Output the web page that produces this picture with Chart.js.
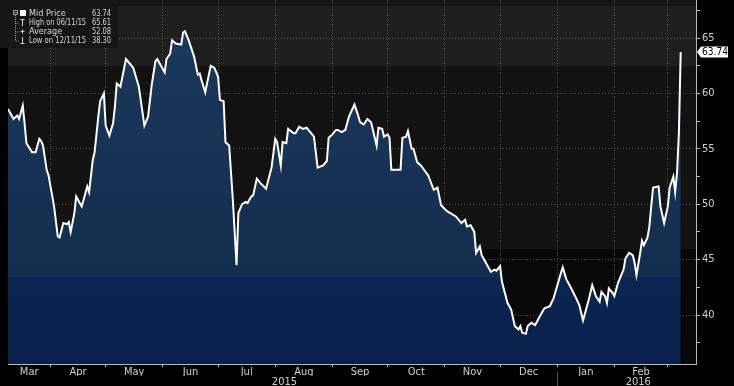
<!DOCTYPE html>
<html>
<head>
<meta charset="utf-8">
<script src="https://cdn.jsdelivr.net/npm/chart.js@4.4.1/dist/chart.umd.min.js"></script>
<style>
  html, body { margin: 0; padding: 0; background: #000; }
  #wrap { position: relative; width: 734px; height: 386px; }
</style>
</head>
<body>
<div id="wrap"><canvas id="chart" width="734" height="386"></canvas></div>
<script>
// x values are calendar days counted from 1 Mar 2015 (day 0)
const days = [8,11,13,14,16,17,18,21,23,25,26,27,29,30,33,35,36,38,40,41,
  42,44,45,48,51,52,54,55,57,58,60,61,63,65,66,67,69,72,74,76,
  79,82,84,86,88,89,91,93,94,96,97,99,102,103,104,106,109,111,112,113,
  115,118,120,122,123,125,126,128,130,132,133,135,137,138,140,141,143,145,148,151,
  153,154,156,157,159,160,163,164,166,168,170,172,174,176,179,181,182,184,186,187,
  189,191,193,196,198,199,201,203,205,208,209,211,212,214,215,216,221,222,224,225,
  227,228,230,232,236,239,241,243,246,248,251,254,256,257,259,261,262,264,265,267,
  270,272,273,275,276,279,281,283,285,286,287,289,290,292,294,296,299,302,304,307,
  308,309,311,313,316,318,320,323,325,327,329,330,332,333,334,336,337,339,342,343,
  345,347,348,349,351,352,353,355,356,357,358,361,362,364,366,367,369,370,371,372,373];

const prices = [58.6,57.7,58.0,57.7,58.9,57.3,55.5,54.7,54.7,55.9,55.7,55.3,53.1,52.6,49.8,47.1,47.0,48.3,48.2,48.4,
  47.5,49.2,50.7,49.8,51.6,51.1,54.0,54.7,57.9,59.3,60.0,57.1,56.2,57.3,58.8,60.9,60.6,63.1,62.7,62.3,
  60.6,57.1,57.9,60.8,62.9,63.1,62.5,61.9,63.1,63.6,64.8,64.5,64.4,65.5,65.61,64.8,63.3,61.7,61.8,61.2,
  60.1,62.5,62.3,61.5,59.4,59.3,55.6,55.3,50.4,44.5,49.2,50.0,50.2,50.1,50.7,50.8,52.3,51.9,51.4,53.3,
  55.9,55.6,53.5,55.6,55.5,56.8,56.4,56.4,57.0,56.8,56.9,56.5,56.1,53.3,53.5,53.9,56.0,56.3,56.7,56.7,
  56.5,56.7,57.9,59.0,58.0,57.4,57.2,57.7,57.4,55.3,56.9,56.8,56.1,56.3,56.0,53.1,53.1,56.0,56.1,56.6,
  55.0,55.0,53.8,53.5,52.6,51.3,51.5,49.9,49.4,49.2,48.9,48.3,48.6,48.0,48.1,47.5,45.6,46.2,45.4,44.8,
  43.9,44.1,44.0,44.4,43.0,41.1,40.5,39.0,38.7,39.0,38.4,38.3,39.0,39.3,39.1,39.7,40.6,40.8,41.5,43.2,
  43.8,44.3,43.2,42.6,41.6,40.9,39.5,41.3,42.7,41.7,41.2,42.1,41.7,41.1,42.4,42.0,41.7,42.9,44.1,45.1,
  45.6,45.4,44.7,43.6,45.6,46.7,46.3,47.0,48.0,49.8,51.5,51.6,49.8,48.3,49.8,51.5,52.5,51.1,52.8,56.4,63.74];

const monthStarts = [31, 61, 92, 122, 153, 184, 214, 245, 275, 306, 337, 366];
const monthMids = [19.5, 46, 76.5, 107, 137.5, 168.5, 199, 229.5, 260, 290.5, 321.5, 351.5];
const monthLabels = ["Mar", "Apr", "May", "Jun", "Jul", "Aug", "Sep", "Oct", "Nov", "Dec", "Jan", "Feb"];
const yearMids = [158, 350];
const yearLabels = ["2015", "2016"];
const yearStart2016 = 306;

const yTicks = [40, 45, 50, 55, 60, 65];
const yMinorTicks = [37.5, 42.5, 47.5, 52.5, 57.5, 62.5, 67.5];

const legendRows = [
  ["Mid Price", "63.74"],
  ["High on 06/11/15", "65.61"],
  ["Average", "52.08"],
  ["Low on 12/11/15", "38.30"]
];

// styling
const FONT = "'Liberation Sans Narrow', 'DejaVu Sans Condensed', 'Arial Narrow', sans-serif";
const GRID = "rgba(150,150,150,0.45)";
const AXIS = "#b8b8b8";
const LABEL = "#cfcfcf";
const X_MIN = 8, X_MAX = 381.3;
const Y_MIN = 35.58, Y_MAX = 68.43;
const FILL_BREAK = 43.4;
const BANDS = [[67.9, "#151515"], [62.4, "#1e1e1e"], [45.9, "#121212"], [null, "#080808"]];

const bgBands = {
  id: "bgBands",
  beforeDraw(chart) {
    const { ctx, chartArea: a, scales: { y } } = chart;
    ctx.save();
    ctx.fillStyle = "#000";
    ctx.fillRect(0, 0, chart.width, chart.height);
    let prev = a.top;
    for (const [edge, color] of BANDS) {
      const py = edge === null ? a.bottom : y.getPixelForValue(edge);
      ctx.fillStyle = color;
      ctx.fillRect(a.left, prev, a.right - a.left, py - prev);
      prev = py;
    }
    ctx.restore();
  }
};

const overlays = {
  id: "overlays",
  afterDraw(chart) {
    const { ctx, chartArea: a, scales: { x, y } } = chart;
    ctx.save();

    // year separator under the axis
    const sx = Math.round(x.getPixelForValue(yearStart2016)) + 0.5;
    ctx.strokeStyle = "#555";
    ctx.lineWidth = 1;
    ctx.beginPath();
    ctx.moveTo(sx, a.bottom + 8);
    ctx.lineTo(sx, chart.height);
    ctx.stroke();

    // last price tag
    const last = prices[prices.length - 1];
    const py = Math.round(y.getPixelForValue(last));
    const x0 = a.right + 1;
    ctx.fillStyle = "#fff";
    ctx.beginPath();
    ctx.moveTo(x0, py);
    ctx.lineTo(x0 + 4, py - 5.5);
    ctx.lineTo(x0 + 31, py - 5.5);
    ctx.lineTo(x0 + 31, py + 5.5);
    ctx.lineTo(x0 + 4, py + 5.5);
    ctx.closePath();
    ctx.fill();
    ctx.fillStyle = "#000";
    ctx.font = "11px " + FONT;
    ctx.textBaseline = "middle";
    ctx.textAlign = "left";
    ctx.fillText(last.toFixed(2), x0 + 5, py + 0.5, 26);

    // legend box
    ctx.fillStyle = "rgba(22,22,22,0.95)";
    ctx.fillRect(0, 0, 118, 48);
    const rowY = [13.5, 22.5, 31.5, 40.5];
    ctx.font = "9px " + FONT;
    ctx.fillStyle = "#d6d6d6";
    legendRows.forEach(([name, val], i) => {
      ctx.textAlign = "left";
      ctx.fillText(name, 29, rowY[i], 57);
      ctx.textAlign = "right";
      ctx.fillText(val, 111, rowY[i], 19);
    });
    // tree icons
    ctx.strokeStyle = "#9a9a9a";
    ctx.strokeRect(13.5, 10.5, 4, 4);
    ctx.beginPath(); ctx.moveTo(14.5, 12.5); ctx.lineTo(17, 12.5); ctx.stroke();
    ctx.fillStyle = "#fff";
    ctx.fillRect(20, 10, 6, 6);
    ctx.setLineDash([1, 1]);
    ctx.beginPath();
    ctx.moveTo(15.5, 15); ctx.lineTo(15.5, 41);
    [22.5, 31.5, 40.5].forEach(r => { ctx.moveTo(15.5, r + 0.5); ctx.lineTo(19, r + 0.5); });
    ctx.stroke();
    ctx.setLineDash([]);
    ctx.strokeStyle = "#cfcfcf";
    ctx.beginPath();
    ctx.moveTo(20.5, 19.5); ctx.lineTo(24.5, 19.5); ctx.moveTo(22.5, 19.5); ctx.lineTo(22.5, 26);
    ctx.moveTo(20.5, 31.5); ctx.lineTo(24.5, 31.5); ctx.moveTo(22.5, 29.5); ctx.lineTo(22.5, 33.5);
    ctx.moveTo(22.5, 37); ctx.lineTo(22.5, 43.5); ctx.moveTo(20.5, 43.5); ctx.lineTo(24.5, 43.5);
    ctx.stroke();

    ctx.restore();
  }
};

function fillColor(context) {
  const { chart } = context;
  const { chartArea, scales } = chart;
  if (!chartArea) return "#14304f";
  const g = chart.ctx.createLinearGradient(0, chartArea.top, 0, chartArea.bottom);
  const stop = (scales.y.getPixelForValue(FILL_BREAK) - chartArea.top) / chartArea.height;
  g.addColorStop(0, "#1b3a5d");
  g.addColorStop(stop, "#132d4e");
  g.addColorStop(stop, "#0b2552");
  g.addColorStop(1, "#09214a");
  return g;
}

new Chart(document.getElementById("chart"), {
  type: "line",
  data: {
    datasets: [{
      data: days.map((d, i) => ({ x: d, y: prices[i] })),
      borderColor: "#ffffff",
      borderWidth: 2,
      backgroundColor: fillColor,
      fill: "start",
      pointRadius: 0,
      tension: 0
    }]
  },
  options: {
    responsive: false,
    animation: false,
    events: [],
    layout: { padding: { left: 8, top: 0, right: 0, bottom: 0 } },
    plugins: { legend: { display: false }, tooltip: { enabled: false } },
    scales: {
      x: {
        type: "linear", axis: "x", position: "bottom", weight: 1, z: 1,
        min: X_MIN, max: X_MAX,
        afterBuildTicks: s => { s.ticks = monthStarts.map(v => ({ value: v })); },
        ticks: { display: false },
        grid: { color: GRID, drawTicks: true, tickLength: 3, tickColor: AXIS, tickBorderDash: [] },
        border: { color: AXIS, dash: [1, 2] },
        afterFit: s => { s.height = 2; s.paddingLeft = 0; s.paddingRight = 0; }
      },
      xm: {
        type: "linear", axis: "x", position: "bottom", weight: 2,
        min: X_MIN, max: X_MAX,
        afterBuildTicks: s => { s.ticks = monthMids.map(v => ({ value: v })); },
        ticks: { color: LABEL, font: { family: FONT, size: 11 }, padding: 0, maxRotation: 0, autoSkip: false,
                 callback: (v, i) => monthLabels[i] },
        grid: { display: false, drawTicks: false },
        border: { display: false },
        afterFit: s => { s.height = 10; s.paddingLeft = 0; s.paddingRight = 0; }
      },
      xy: {
        type: "linear", axis: "x", position: "bottom", weight: 3,
        min: X_MIN, max: X_MAX,
        afterBuildTicks: s => { s.ticks = yearMids.map(v => ({ value: v })); },
        ticks: { color: LABEL, font: { family: FONT, size: 11 }, padding: 0, maxRotation: 0, autoSkip: false,
                 callback: (v, i) => yearLabels[i] },
        grid: { display: false, drawTicks: false },
        border: { display: false },
        afterFit: s => { s.height = 10; s.paddingLeft = 0; s.paddingRight = 0; }
      },
      y: {
        type: "linear", position: "right", z: 1,
        min: Y_MIN, max: Y_MAX,
        afterBuildTicks: s => {
          s.ticks = yTicks.concat(yMinorTicks).sort((a, b) => a - b).map(v => ({ value: v }));
        },
        ticks: { color: LABEL, font: { family: FONT, size: 11 }, padding: 2, autoSkip: false,
                 callback: v => (yTicks.includes(v) ? String(v) : "") },
        grid: {
          color: c => (c.tick && yTicks.includes(c.tick.value) ? GRID : "rgba(0,0,0,0)"),
          drawTicks: true, tickLength: 4, tickColor: AXIS, tickBorderDash: []
        },
        border: { color: AXIS, dash: [1, 2] },
        afterFit: s => { s.width = 38; s.paddingTop = 0; s.paddingBottom = 0; }
      }
    }
  },
  plugins: [bgBands, overlays]
});
</script>
</body>
</html>
